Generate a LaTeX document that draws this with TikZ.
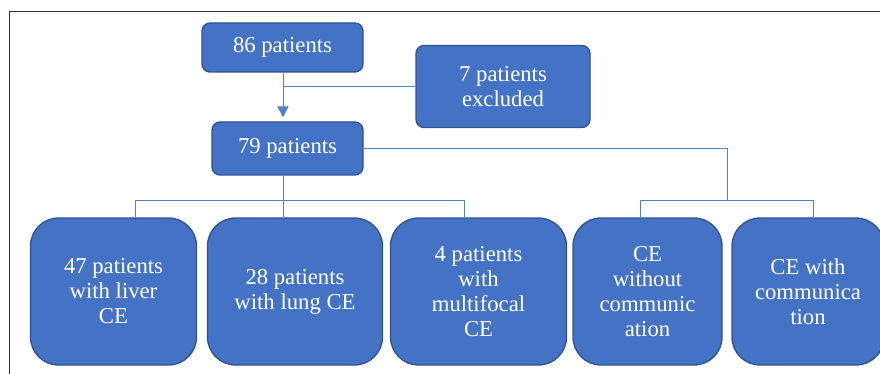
\documentclass[tikz,border=0pt]{standalone}
\usepackage{fontspec}
\setmainfont{Liberation Serif}
\newfontfamily\chartfont{Liberation Serif}
\usetikzlibrary{arrows.meta}
\definecolor{boxblue}{HTML}{4472C4}
\definecolor{boxedge}{HTML}{2F528F}
\definecolor{linkblue}{HTML}{4F7FD0}
\tikzset{
  smallbox/.style={draw=boxedge,line width=1.3pt,fill=boxblue,rounded corners=8pt,
    text=white,align=center,inner sep=0pt,
    font=\chartfont\fontsize{22.7}{25}\selectfont},
  bigbox/.style={smallbox,rounded corners=28pt},
  link/.style={draw=linkblue,line width=1pt}
}
\begin{document}
\begin{tikzpicture}[x=1pt,y=-1pt,>=stealth]
  \clip (0,0) rectangle (880,374);
  \draw[black!80,line width=1pt] (9,374) -- (9,12) -- (880,12);
  % top of the chart
  \node[smallbox,minimum width=161pt,minimum height=49pt] (n86) at (282.5,47.5) {86 patients};
  \node[smallbox,minimum width=174pt,minimum height=82pt] (excl) at (503,86.5) {7 patients\\excluded};
  \node[smallbox,minimum width=151pt,minimum height=53pt] (n79) at (287.5,148.5) {79 patients};
  % bottom row
  \node[bigbox,minimum width=166pt,minimum height=147pt] (liver) at (113.5,291.5) {47 patients\\with liver\\CE};
  \node[bigbox,minimum width=175pt,minimum height=147pt] (lung) at (295,291.5) {28 patients\\with lung CE};
  \node[bigbox,minimum width=176pt,minimum height=147pt] (multi) at (478.5,291.5) {4 patients\\with\\multifocal\\CE};
  \node[bigbox,minimum width=149pt,minimum height=147pt] (nocom) at (647.5,291.5) {CE\\without\\communic\\ation};
  \node[bigbox,minimum width=152pt,minimum height=147pt] (com) at (808,291.5) {CE with\\communica\\tion};
  \coordinate (jl) at (283,200);
  \coordinate (jr) at (727,200);
  \draw[link,-{Triangle[length=11pt,width=11pt]}] (n86.south -| jl) -- ([yshift=4pt]n79.north -| jl);
  \draw[link] (jl |- excl.west) -- (excl.west);
  \draw[link] (n79.east) -| (jr);
  \draw[link] (jr) -| ([xshift=-7.5pt]nocom.north);
  \draw[link] (jr) -| ([xshift=5pt]com.north);
  \draw[link] (n79.south -| jl) -- (jl |- lung.north);
  \draw[link] (jl) -| ([xshift=21.5pt]liver.north);
  \draw[link] (jl) -| ([xshift=-14.5pt]multi.north);
\end{tikzpicture}
\end{document}
